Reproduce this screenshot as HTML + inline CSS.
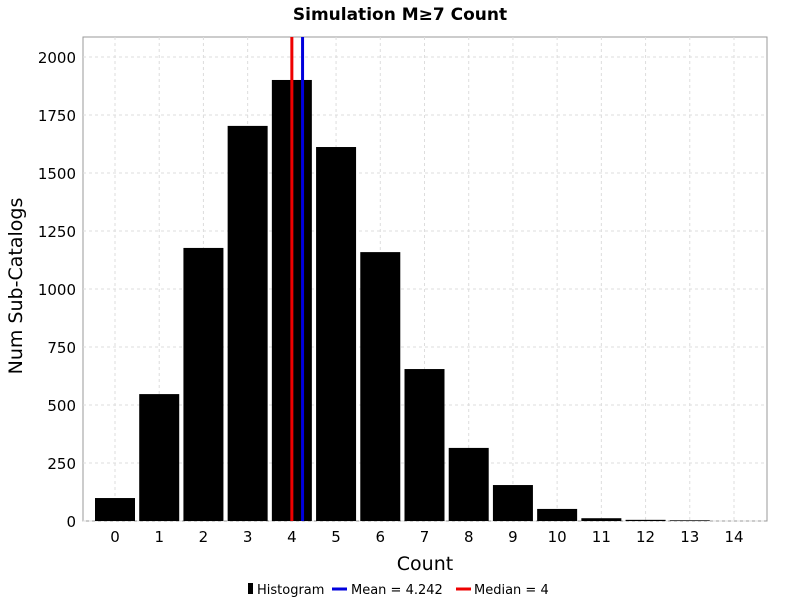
<!DOCTYPE html>
<html><head><meta charset="utf-8"><style>
body{margin:0;background:#fff;font-family:"Liberation Sans","DejaVu Sans",sans-serif}
svg text{font-family:"DejaVu Sans","Liberation Sans",sans-serif}
</style></head><body>
<svg id="c" width="800" height="600" xmlns="http://www.w3.org/2000/svg">
<rect width="800" height="600" fill="#fff"/>
<text x="400" y="20" text-anchor="middle" font-size="17" font-weight="bold">Simulation M≥7 Count</text>
<rect x="83" y="37" width="684" height="484" fill="#fff" stroke="#999"/>
<g id="grid"></g><g id="bars"></g><g id="lines"></g><g id="axes"></g>
<text x="425" y="570" text-anchor="middle" font-size="19">Count</text>
<text transform="translate(22,286) rotate(-90)" text-anchor="middle" font-size="19">Num Sub-Catalogs</text>
<g font-size="13">
<rect x="248" y="583" width="5" height="11" fill="#000"/>
<text x="257" y="594">Histogram</text>
<line x1="332" y1="589" x2="347" y2="589" stroke="#0000dd" stroke-width="3"/>
<text x="351" y="594">Mean = 4.242</text>
<line x1="456" y1="589" x2="471" y2="589" stroke="#ee0000" stroke-width="3"/>
<text x="474" y="594">Median = 4</text>
</g>
</svg>
<script>
const categories=[0,1,2,3,4,5,6,7,8,9,10,11,12,13,14];
const counts=[99,547,1177,1703,1901,1612,1159,655,315,155,52,12,5,3,0];
const yTicks=[0,250,500,750,1000,1250,1500,1750,2000];
const meanValue=[4.242];
const medianValue=[4];
const NS="http://www.w3.org/2000/svg";
const x=v=>115+v*44.214;
const y=v=>521-v*0.232;
function mk(t,a,p){const e=document.createElementNS(NS,t);for(const k in a)e.setAttribute(k,a[k]);document.getElementById(p).appendChild(e);return e;}
yTicks.forEach(t=>{
  const g=mk('line',{x1:83,x2:767,y1:y(t),y2:y(t),stroke:'#ddd','stroke-dasharray':'3,3'},'grid');
  
  
  const l=mk('text',{x:76,y:y(t)+6,'text-anchor':'end','font-size':'15'},'axes');l.textContent=t;
  
  
});
categories.forEach((c,i)=>{
  const g=mk('line',{x1:x(c),x2:x(c),y1:37,y2:521,stroke:'#ddd','stroke-dasharray':'3,3'},'grid');
  
  
  const b=mk('rect',{x:x(c)-20,y:y(counts[i]),width:40,height:521-y(counts[i]),fill:'#000'},'bars');
  
  
  const l=mk('text',{x:x(c),y:542,'text-anchor':'middle','font-size':'15'},'axes');l.textContent=c;
  
  
});
const m=mk('line',{x1:x(meanValue[0]),x2:x(meanValue[0]),y1:37,y2:521,stroke:'#0000dd','stroke-width':3},'lines');


const md=mk('line',{x1:x(medianValue[0]),x2:x(medianValue[0]),y1:37,y2:521,stroke:'#ee0000','stroke-width':3},'lines');


</script>
</body></html>
